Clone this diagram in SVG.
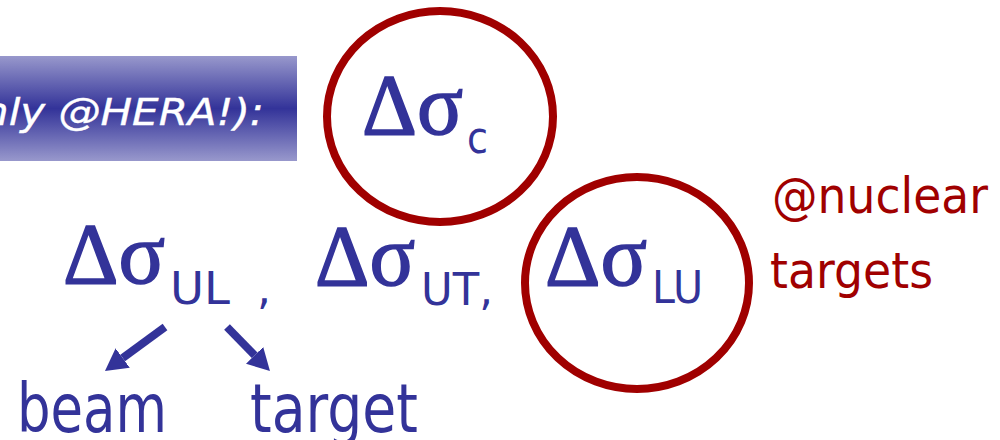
<svg xmlns="http://www.w3.org/2000/svg" width="1000" height="440" viewBox="0 0 1000 440">
  <defs>
    <linearGradient id="bannerFill" x1="0" y1="0" x2="0" y2="1">
      <stop offset="0" stop-color="#9898cc"/>
      <stop offset="0.5" stop-color="#333399"/>
      <stop offset="1" stop-color="#9898cc"/>
    </linearGradient>
    <marker id="head" viewBox="0 0 22 24" refX="0" refY="12" markerWidth="22" markerHeight="24" markerUnits="userSpaceOnUse" orient="auto">
      <path d="M0,0 L22,12 L0,24 z" fill="#333399"/>
    </marker>
    <style>
      .sym { font-family: "Liberation Serif", "DejaVu Serif", serif; font-size: 86px; fill: #333399; stroke: #333399; stroke-width: 1.6px; }
      .sub { font-family: "DejaVu Sans", "Liberation Sans", sans-serif; font-size: 44px; fill: #333399; }
      .lbl { font-family: "DejaVu Sans", "Liberation Sans", sans-serif; font-size: 68px; fill: #333399; }
      .note { font-family: "DejaVu Sans", "Liberation Sans", sans-serif; font-size: 49px; fill: #a00000; }
      .ring { fill: none; stroke: #a00000; stroke-width: 8; }
      .arrow { stroke: #333399; stroke-width: 8; fill: none; marker-end: url(#head); }
    </style>
  </defs>

  <rect width="1000" height="440" fill="#ffffff"/>

  <!-- heading banner -->
  <g id="banner">
    <rect x="0" y="56" width="297" height="105" fill="url(#bannerFill)"/>
    <text x="-18" y="125" font-family="DejaVu Sans, sans-serif" font-style="italic" font-size="38" fill="#ffffff" stroke="#ffffff" stroke-width="0.4" textLength="282" lengthAdjust="spacingAndGlyphs">nly @HERA!):</text>
  </g>

  <!-- collinear asymmetry, circled -->
  <g id="sigma-c">
    <ellipse class="ring" cx="440" cy="116.5" rx="113" ry="105.5"/>
    <text class="sym" x="362" y="134" textLength="101" lengthAdjust="spacingAndGlyphs">Δσ</text>
    <text class="sub" x="467" y="153" font-size="47" textLength="21" lengthAdjust="spacingAndGlyphs">c</text>
  </g>

  <!-- UL asymmetry -->
  <g id="sigma-ul">
    <text class="sym" x="63" y="283" textLength="102" lengthAdjust="spacingAndGlyphs">Δσ</text>
    <text class="sub" x="170" y="304" textLength="60" lengthAdjust="spacingAndGlyphs">UL</text>
    <text class="sub" x="257" y="304" font-size="40">,</text>
  </g>

  <!-- UT asymmetry -->
  <g id="sigma-ut">
    <text class="sym" x="315" y="285" textLength="100" lengthAdjust="spacingAndGlyphs">Δσ</text>
    <text class="sub" x="421" y="305" textLength="72" lengthAdjust="spacingAndGlyphs">UT,</text>
  </g>

  <!-- LU asymmetry, circled -->
  <g id="sigma-lu">
    <ellipse class="ring" cx="637" cy="283" rx="112" ry="106"/>
    <text class="sym" x="545" y="285" textLength="102" lengthAdjust="spacingAndGlyphs">Δσ</text>
    <text class="sub" x="652" y="303" textLength="51" lengthAdjust="spacingAndGlyphs">LU</text>
  </g>

  <g id="nuclear-note">
    <text class="note" x="772" y="213" textLength="216" lengthAdjust="spacingAndGlyphs">@nuclear</text>
    <text class="note" x="770" y="288" textLength="163" lengthAdjust="spacingAndGlyphs">targets</text>
  </g>

  <g id="beam">
    <text class="lbl" x="17" y="432" textLength="150" lengthAdjust="spacingAndGlyphs">beam</text>
  </g>

  <g id="target">
    <text class="lbl" x="250" y="432" textLength="168" lengthAdjust="spacingAndGlyphs">target</text>
  </g>

  <!-- connectors -->
  <g id="connectors">
    <line class="arrow" x1="165" y1="327" x2="122.7" y2="358"/>
    <line class="arrow" x1="227" y1="327" x2="254.6" y2="355.3"/>
  </g>
</svg>
